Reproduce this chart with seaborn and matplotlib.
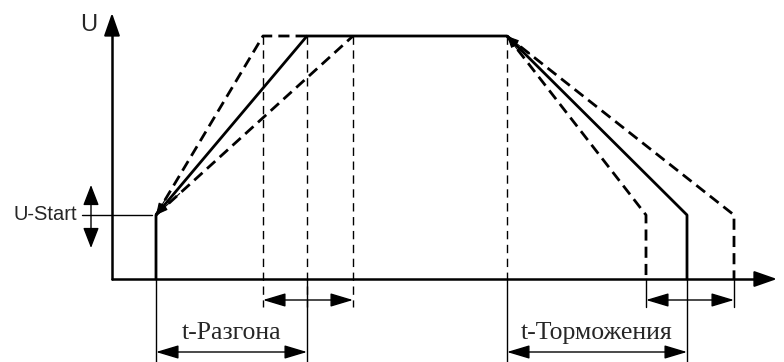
import pandas as pd
import numpy as np
import seaborn as sns
import matplotlib.pyplot as plt

# schematic values (arbitrary units: time and voltage)
t_start = 44
t_ramp_end = [151, 195, 241]      # fast, nominal, slow acceleration
t_decel = 395
t_stop = [534, 575, 622]          # fast, nominal, slow braking
u_start = 64
u_max = 243
arrow_y = [-21, -73]              # dimension arrows below the axis
t_max, u_top = 665, 266

sns.set_style("white")
fig = plt.figure(figsize=(7.84, 3.62), dpi=100)
ax = fig.add_axes([0, 0, 1, 1])
ax.set_xlim(-112, 672)
ax.set_ylim(-83, 279)
ax.axis("off")

bold = 2.0
thin = 1.0
dash = (0, (4, 2.2))

# nominal profile (solid)
nominal = pd.DataFrame({
    "t": [t_start, t_start, t_ramp_end[1], t_decel, t_stop[1], t_stop[1]],
    "U": [0, u_start, u_max, u_max, u_start, 0],
})
sns.lineplot(data=nominal, x="t", y="U", sort=False, estimator=None,
             color="black", lw=bold, ax=ax)

# fast / slow profiles (dashed)
fast_acc = pd.DataFrame({"t": [t_start, t_ramp_end[0], t_ramp_end[1]], "U": [u_start, u_max, u_max]})
slow_acc = pd.DataFrame({"t": [t_start, t_ramp_end[2]], "U": [u_start, u_max]})
fast_dec = pd.DataFrame({"t": [t_decel, t_stop[0], t_stop[0]], "U": [u_max, u_start, 0]})
slow_dec = pd.DataFrame({"t": [t_decel, t_stop[2], t_stop[2]], "U": [u_max, u_start, 0]})
for df in [fast_acc, slow_acc, fast_dec, slow_dec]:
    sns.lineplot(data=df, x="t", y="U", sort=False, estimator=None, color="black",
                 lw=bold, linestyle=dash, ax=ax)

# small arrowheads where ramps meet
for t_end in t_ramp_end:
    k = 0.12
    ax.annotate("", xy=(t_start, u_start),
                xytext=(t_start + k * (t_end - t_start), u_start + k * (u_max - u_start)),
                arrowprops=dict(arrowstyle="-|>,head_length=0.6,head_width=0.2",
                                color="black", lw=0.8, mutation_scale=12,
                                shrinkA=0, shrinkB=0))
for t_end in t_stop:
    k = 0.1
    ax.annotate("", xy=(t_decel, u_max),
                xytext=(t_decel + k * (t_end - t_decel), u_max - k * (u_max - u_start)),
                arrowprops=dict(arrowstyle="-|>,head_length=0.6,head_width=0.2",
                                color="black", lw=0.8, mutation_scale=12,
                                shrinkA=0, shrinkB=0))

# axes with arrows
ax.plot([0, t_max - 8], [0, 0], color="black", lw=1.8)
ax.plot([0, 0], [0, u_top - 8], color="black", lw=1.8)
ax.annotate("", xy=(t_max, 0), xytext=(t_max - 20, 0),
            arrowprops=dict(arrowstyle="-|>,head_length=1.0,head_width=0.35",
                            color="black", lw=1.5, mutation_scale=14,
                            shrinkA=0, shrinkB=0))
ax.annotate("", xy=(0, u_top), xytext=(0, u_top - 20),
            arrowprops=dict(arrowstyle="-|>,head_length=1.0,head_width=0.35",
                            color="black", lw=1.5, mutation_scale=14,
                            shrinkA=0, shrinkB=0))
ax.text(-23, 254, "U", fontsize=17, family="Liberation Sans", ha="center", va="center")

# guide lines
for t in t_ramp_end:
    ax.plot([t, t], [u_max, arrow_y[0] - 7], color="black", lw=thin, linestyle=(0, (6, 4)))
ax.plot([t_ramp_end[1]] * 2, [0, arrow_y[1] - 12], color="black", lw=thin)
ax.plot([t_decel] * 2, [u_max, 0], color="black", lw=thin, linestyle=(0, (6, 4)))
ax.plot([t_decel] * 2, [0, arrow_y[1] - 12], color="black", lw=thin)
ax.plot([t_start] * 2, [0, arrow_y[1] - 12], color="black", lw=thin)
ax.plot([t_stop[1]] * 2, [0, arrow_y[1] - 12], color="black", lw=thin)
for t in [t_stop[0], t_stop[2]]:
    ax.plot([t, t], [0, arrow_y[0] - 7], color="black", lw=thin)

# dimension arrows
dim = dict(arrowstyle="<|-|>,head_length=1.0,head_width=0.3", color="black",
           lw=thin, mutation_scale=14, shrinkA=0, shrinkB=0)
ax.annotate("", xy=(t_ramp_end[0], arrow_y[0]), xytext=(t_ramp_end[2], arrow_y[0]), arrowprops=dim)
ax.annotate("", xy=(t_stop[0], arrow_y[0]), xytext=(t_stop[2], arrow_y[0]), arrowprops=dim)
ax.annotate("", xy=(t_start, arrow_y[1]), xytext=(t_ramp_end[1], arrow_y[1]), arrowprops=dim)
ax.annotate("", xy=(t_decel, arrow_y[1]), xytext=(t_stop[1], arrow_y[1]), arrowprops=dim)
ax.text((t_start + t_ramp_end[1]) / 2, -54, "t-Разгона", fontsize=18.5,
        family="Liberation Serif", ha="center", va="center")
ax.text((t_decel + t_stop[1]) / 2, -54, "t-Торможения", fontsize=18.5,
        family="Liberation Serif", ha="center", va="center")

# U-Start marker
ax.plot([-30, t_start - 4], [u_start, u_start], color="black", lw=thin)
ax.annotate("", xy=(-21, u_start + 30), xytext=(-21, u_start - 33),
            arrowprops=dict(arrowstyle="<|-|>,head_length=0.9,head_width=0.35",
                            color="black", lw=thin, mutation_scale=14,
                            shrinkA=0, shrinkB=0))
ax.text(-35, u_start + 1, "U-Start", fontsize=14.5, family="Liberation Sans",
        ha="right", va="center")

fig.savefig("out.png", dpi=100)
